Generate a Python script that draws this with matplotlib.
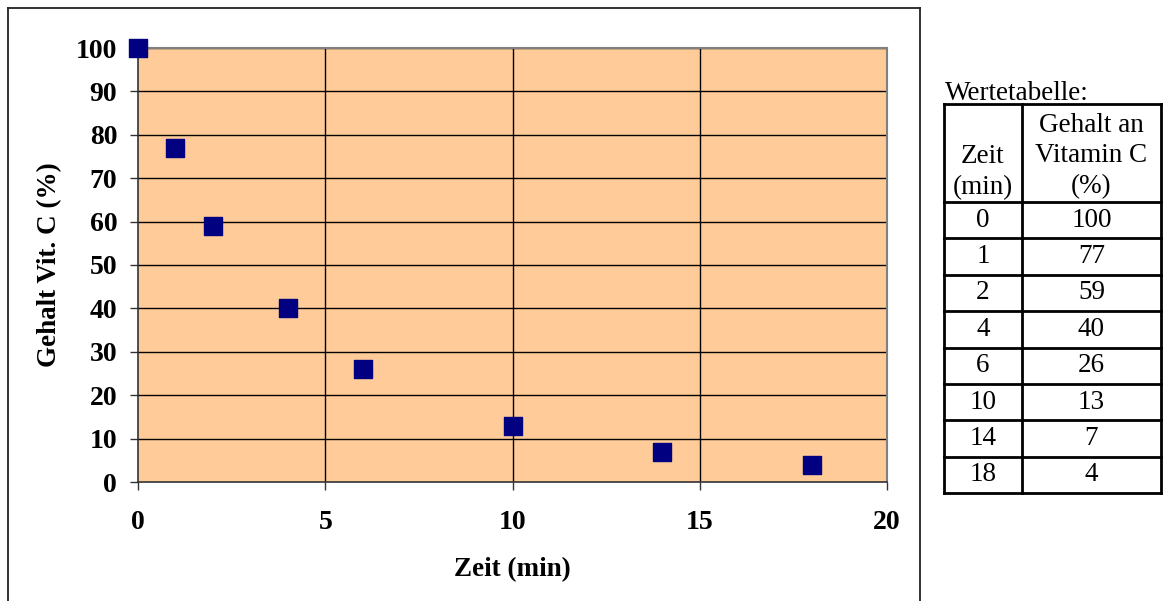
import numpy as np
import matplotlib
matplotlib.use("Agg")
import matplotlib.pyplot as plt
from matplotlib.lines import Line2D

plt.rcParams['font.family'] = ['Liberation Serif', 'DejaVu Serif']

zeit = [0, 1, 2, 4, 6, 10, 14, 18]
gehalt = [100, 77, 59, 40, 26, 13, 7, 4]
x_ticks = [0, 5, 10, 15, 20]
y_ticks = list(range(0, 101, 10))

W, H = 1163, 601
fig = plt.figure(figsize=(W / 100, H / 100), dpi=100)

def fx(px):
    return px / W

def fy(py):
    return 1 - py / H

# outer chart frame
for xs, ys in [([8, 8], [8, 605]), ([8, 920], [8, 8]), ([920, 920], [8, 605])]:
    fig.add_artist(Line2D([fx(v) for v in xs], [fy(v) for v in ys], color='#222222', lw=1.3))

ax = fig.add_axes([fx(138), fy(482), fx(887) - fx(138), fy(48) - fy(482)])
ax.set_facecolor('#FFCC99')
ax.set_xlim(0, 20)
ax.set_ylim(0, 100)
ax.set_xticks(x_ticks)
ax.set_yticks(y_ticks)
for v in y_ticks[1:]:
    ax.axhline(v, color='black', lw=1.0, zorder=1)
for v in x_ticks[1:-1]:
    ax.axvline(v, color='black', lw=1.0, zorder=1)

ax.scatter(zeit, gehalt, marker='s', s=150, color='#000080', zorder=5, clip_on=False)

for side in ['top', 'right']:
    ax.spines[side].set_color('#808080')
    ax.spines[side].set_linewidth(1.5)
for side in ['left', 'bottom']:
    ax.spines[side].set_color('#333333')
    ax.spines[side].set_linewidth(1.2)

ax.tick_params(direction='out', length=6, width=1, color='#333333', labelsize=20)
ax.tick_params(axis='y', pad=9)
ax.tick_params(axis='x', pad=14)
for lab in ax.get_xticklabels() + ax.get_yticklabels():
    lab.set_fontweight('bold')

ax.set_xlabel('Zeit (min)', fontsize=19.5, fontweight='bold', labelpad=16)
ax.set_ylabel('Gehalt Vit. C (%)', fontsize=19.5, fontweight='bold', labelpad=10)

# value table on the right
fs = 19.5
fig.text(fx(945), fy(94), 'Wertetabelle:', fontsize=fs, va='center', ha='left')

tx = [944, 1022, 1161]
head_top, head_bot = 104, 202
row_h = (493 - head_bot) / len(zeit)
row_lines = [head_top, head_bot] + [head_bot + row_h * (i + 1) for i in range(len(zeit))]
for y in row_lines:
    fig.add_artist(Line2D([fx(tx[0]), fx(tx[-1])], [fy(y), fy(y)], color='black', lw=2))
for x in tx:
    fig.add_artist(Line2D([fx(x), fx(x)], [fy(head_top), fy(row_lines[-1])], color='black', lw=2))

c1 = (tx[0] + tx[1]) / 2
c2 = (tx[1] + tx[2]) / 2
fig.text(fx(c1), fy(172), 'Zeit\n(min)', fontsize=fs, ha='center', va='center', linespacing=1.28)
fig.text(fx(c2), fy(156), 'Gehalt an\nVitamin C\n(%)', fontsize=fs, ha='center', va='center', linespacing=1.28)
for i, (z, g) in enumerate(zip(zeit, gehalt)):
    yc = head_bot + row_h * (i + 0.5)
    fig.text(fx(c1), fy(yc), str(z), fontsize=fs, ha='center', va='center')
    fig.text(fx(c2), fy(yc), str(g), fontsize=fs, ha='center', va='center')

fig.savefig('out.png', dpi=100, facecolor='white')
